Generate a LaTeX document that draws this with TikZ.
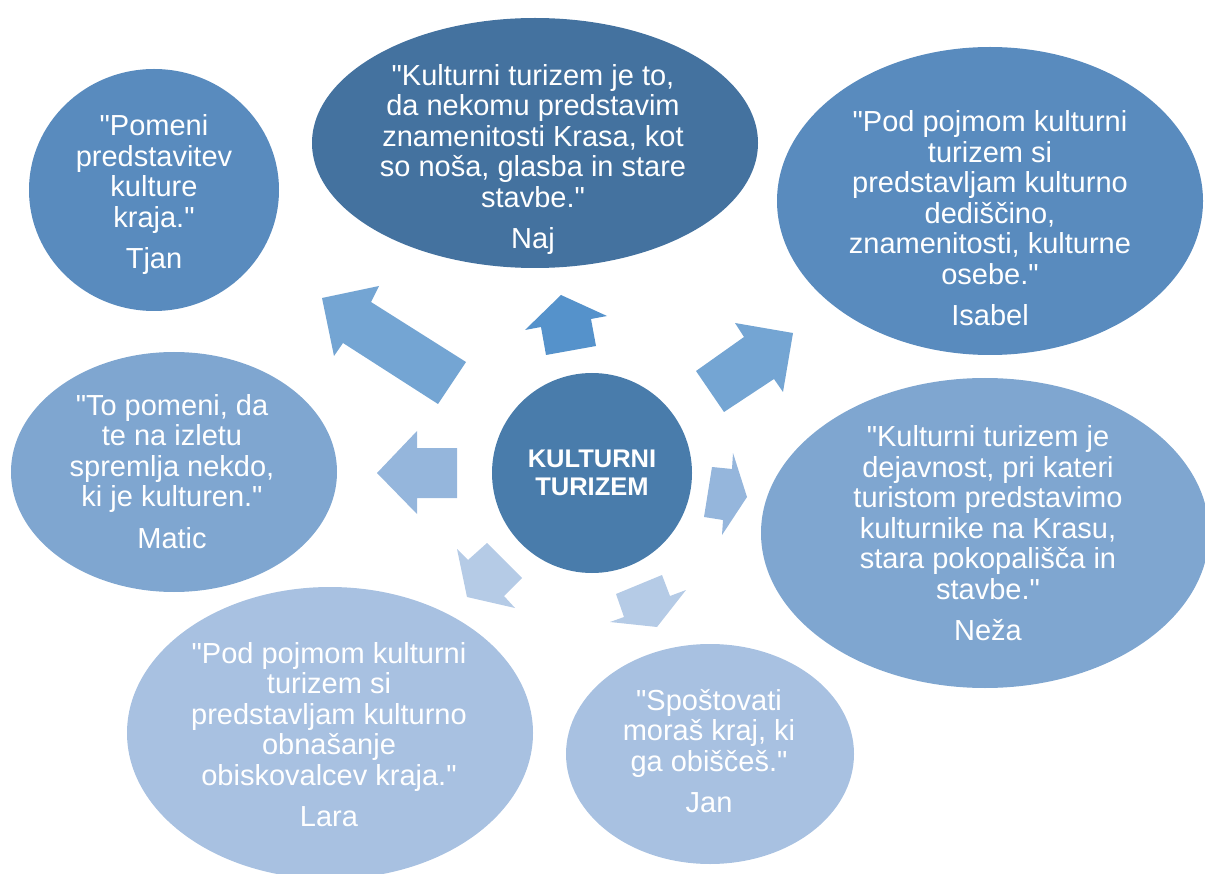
\documentclass[tikz,border=0pt]{standalone}
\usepackage{fontspec}
\setmainfont{Liberation Sans}[Ligatures=TeXOff]
\usetikzlibrary{shapes.geometric}
\definecolor{cNaj}{HTML}{44729F}
\definecolor{cCenter}{HTML}{497CAB}
\definecolor{cMid}{HTML}{598BBE}
\definecolor{cLight}{HTML}{7FA6D0}
\definecolor{cPale}{HTML}{A8C1E1}
\definecolor{aMid}{HTML}{74A5D3}
\definecolor{aUp}{HTML}{5592CB}
\definecolor{aLight}{HTML}{95B6DC}
\definecolor{aPale}{HTML}{B5CBE6}
\begin{document}
\begin{tikzpicture}[x=1pt,y=-1pt,
  bubble/.style={ellipse, inner sep=0pt, draw=none},
  quote/.style={text=white, align=center, inner sep=0pt,
    font=\fontsize{29}{30.5}\selectfont},
  blockarrow/.style={draw=none}]
\useasboundingbox (0,0) rectangle (1205,874);
% bubbles
\node[bubble, fill=cMid, minimum width=250pt, minimum height=242pt] (tjan) at (154,190) {};
\node[bubble, fill=cNaj, minimum width=446pt, minimum height=250pt] (naj) at (535,143) {};
\node[bubble, fill=cMid, minimum width=426pt, minimum height=308pt] (isabel) at (990,201) {};
\node[bubble, fill=cLight, minimum width=448pt, minimum height=310pt] (neza) at (985,533) {};
\node[bubble, fill=cPale, minimum width=288pt, minimum height=220pt] (jan) at (710,754) {};
\node[bubble, fill=cPale, minimum width=406pt, minimum height=292pt] (lara) at (330,733) {};
\node[bubble, fill=cLight, minimum width=326pt, minimum height=240pt] (matic) at (174,472) {};
\node[circle, fill=cCenter, inner sep=0pt, minimum size=200pt] (center) at (592,473) {};
% texts
\node[quote] (tjanQ) at (154,195) {"Pomeni\\predstavitev\\kulture\\kraja."\\[11pt]Tjan};
\node[quote] (najQ) at (533,159.5) {"Kulturni turizem je to,\\da nekomu predstavim\\znamenitosti Krasa, kot\\so noša, glasba in stare\\stavbe."\\[11pt]Naj};
\node[quote] (isabelQ) at (990,218.5) {"Pod pojmom kulturni\\turizem si\\predstavljam kulturno\\dediščino,\\znamenitosti, kulturne\\osebe."\\[11pt]Isabel};
\node[quote] (nezaQ) at (988,533.5) {"Kulturni turizem je\\dejavnost, pri kateri\\turistom predstavimo\\kulturnike na Krasu,\\stara pokopališča in\\stavbe."\\[11pt]Neža};
\node[quote] (maticQ) at (172,471.5) {"To pomeni, da\\te na izletu\\spremlja nekdo,\\ki je kulturen."\\[11pt]Matic};
\node[quote] (laraQ) at (329,734.5) {"Pod pojmom kulturni\\turizem si\\predstavljam kulturno\\obnašanje\\obiskovalcev kraja."\\[11pt]Lara};
\node[quote] (janQ) at (709,751) {"Spoštovati\\moraš kraj, ki\\ga obiščeš."\\[11pt]Jan};
\node[text=white, align=center, inner sep=0pt, font=\bfseries\fontsize{25.5}{28}\selectfont] (centerQ) at (592,473) {KULTURNI\\TURIZEM};
% block arrows
\fill[aMid] (322,298) -- (379,286) -- (371,302) -- (466,362) -- (438,404) -- (343,343) -- (334,356) -- cycle;
\fill[aUp] (561,295) -- (607,316) -- (591,319) -- (596,346) -- (546,355) -- (541,327) -- (525,330) -- cycle;
\fill[aMid] (696,371) -- (744,337) -- (735,323) -- (793,333) -- (783,392) -- (774,379) -- (724,412) -- cycle;
\fill[aLight] (712,467) -- (732,469) -- (733,453) -- (747,497) -- (722,535) -- (723,520) -- (704,517) -- cycle;
\fill[aLight] (377,473) -- (417,431) -- (417,448) -- (457,448) -- (457,498) -- (417,498) -- (417,514) -- cycle;
\fill[aPale] (457,549) -- (468,560) -- (487,543) -- (522,578) -- (504,596) -- (515,608) -- (467,597) -- cycle;
\fill[aPale] (616,594) -- (662,575) -- (670,596) -- (686,590) -- (657,627) -- (610,622) -- (624,617) -- cycle;
\end{tikzpicture}
\end{document}
